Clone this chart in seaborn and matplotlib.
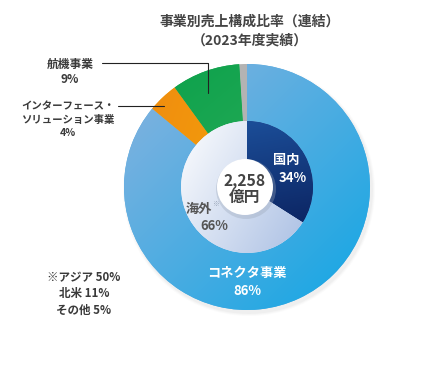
import numpy as np
import matplotlib
matplotlib.use("Agg")
import matplotlib.pyplot as plt
import matplotlib.colors as mcolors
from matplotlib.patches import Circle
import seaborn as sns

# chart values
outer_labels = ['コネクタ事業', 'インターフェース・\nソリューション事業', '航機事業', 'その他']
outer_vals = [86, 4, 9, 1]
inner_labels = ['国内', '海外']
inner_vals = [34, 66]
region_labels = ['※アジア', '北米', 'その他']
region_vals = [50, 11, 5]
total_text = '2,258\n億円'
title = '事業別売上構成比率（連結）\n（2023年度実績）'

sns.set_theme(style='white')
plt.rcParams['font.family'] = ['Noto Sans CJK JP', 'DejaVu Sans']

W, H = 429, 373
fig = plt.figure(figsize=(W / 100, H / 100), dpi=100)
ax = fig.add_axes([0, 0, 1, 1])

cx, cy = 247, H - 187
r_out, r_in, r_mid = 123, 66, 28


def grad_fill(patch, c0, c1, angle, r):
    # linear gradient from c0 to c1 along direction angle (deg), clipped to patch
    n = 200
    xs = np.linspace(-1, 1, n)
    X, Y = np.meshgrid(xs, xs)
    t = (X * np.cos(np.radians(angle)) + Y * np.sin(np.radians(angle)) + 1.42) / 2.84
    a = np.array(mcolors.to_rgb(c0))
    b = np.array(mcolors.to_rgb(c1))
    img = a[None, None, :] * (1 - t[..., None]) + b[None, None, :] * t[..., None]
    im = ax.imshow(img, extent=[cx - r, cx + r, cy - r, cy + r], origin='lower',
                   zorder=patch.get_zorder() + 0.1, interpolation='bilinear')
    im.set_clip_path(patch)


# soft shadow
for i, a in enumerate([0.05, 0.04, 0.03]):
    ax.add_patch(Circle((cx + 2, cy - 3), r_out + 1 + i, color='#888888', alpha=a, lw=0, zorder=0))

outer_colors = ['#4fa9e2', '#f5a300', '#14a44f', '#b3b3b3']
wedges_out, _ = ax.pie(outer_vals, colors=outer_colors, startangle=90, counterclock=False,
                       radius=r_out, center=(cx, cy), frame=True,
                       wedgeprops=dict(width=r_out - r_in, linewidth=0))
grad_fill(wedges_out[0], '#8ab3df', '#10a6e4', -45, r_out)
grad_fill(wedges_out[1], '#ef8612', '#f8b900', -20, r_out)
grad_fill(wedges_out[2], '#08a04a', '#42b462', -50, r_out)

inner_colors = ['#0f2f7a', '#d9e3f3']
wedges_in, _ = ax.pie(inner_vals, colors=inner_colors, startangle=90, counterclock=False,
                      radius=r_in, center=(cx, cy), frame=True,
                      wedgeprops=dict(linewidth=0))
grad_fill(wedges_in[0], '#1f58a6', '#06144c', -80, r_in)
grad_fill(wedges_in[1], '#ffffff', '#a6bce2', -30, r_in)

ax.add_patch(Circle((cx - 1, cy - 2), r_mid + 2, color='#9aa6b8', alpha=0.35, lw=0, zorder=5))
ax.add_patch(Circle((cx - 2, cy), r_mid, color='white', lw=0, zorder=6))

ax.set_xlim(0, W)
ax.set_ylim(0, H)
ax.set_aspect('equal')
ax.axis('off')

dark = '#3a3a3a'
ax.text(250, H - 31, title, ha='center', va='center', fontsize=10, fontweight='bold',
        color='#444444', linespacing=1.45)

# leader lines
ax.plot([102, 208, 208], [H - 63, H - 63, H - 93], color='#222222', lw=0.8, zorder=8)
ax.plot([118, 164], [H - 106, H - 106], color='#222222', lw=0.8, zorder=8)

ax.text(70, H - 72, f'{outer_labels[2]}\n{outer_vals[2]}%', ha='center', va='center',
        fontsize=8.5, fontweight='bold', color=dark, linespacing=1.25)
ax.text(68, H - 120, f'{outer_labels[1]}\n{outer_vals[1]}%', ha='center', va='center',
        fontsize=7.5, fontweight='bold', color=dark, linespacing=1.4)
ax.text(247, H - 282, f'{outer_labels[0]}\n{outer_vals[0]}%', ha='center', va='center',
        fontsize=9.5, fontweight='bold', color='white', linespacing=1.35, zorder=9)

ax.text(286, H - 160, inner_labels[0], ha='center', va='center',
        fontsize=9.5, fontweight='bold', color='white', zorder=9)
ax.text(293, H - 178, f'{inner_vals[0]}%', ha='center', va='center',
        fontsize=9.5, fontweight='bold', color='white', zorder=9)
ax.text(199, H - 209, inner_labels[1], ha='center', va='center',
        fontsize=9.5, fontweight='bold', color='#555555', zorder=9)
ax.text(214, H - 226, f'{inner_vals[1]}%', ha='center', va='center',
        fontsize=9.5, fontweight='bold', color='#555555', zorder=9)
ax.text(216, H - 204, '※', ha='center', va='center', fontsize=5, color='#9aa6b8', zorder=9)

ax.text(cx - 2, H - 189, total_text, ha='center', va='center', fontsize=11.3, fontweight='bold',
        color='#444444', linespacing=1.05, zorder=9)

region_text = '\n'.join(f'{l} {v}%' for l, v in zip(region_labels, region_vals))
ax.text(84, H - 294, region_text, ha='center', va='center', fontsize=8.3, fontweight='bold',
        color=dark, linespacing=1.35)

fig.savefig('out.png', dpi=100)
